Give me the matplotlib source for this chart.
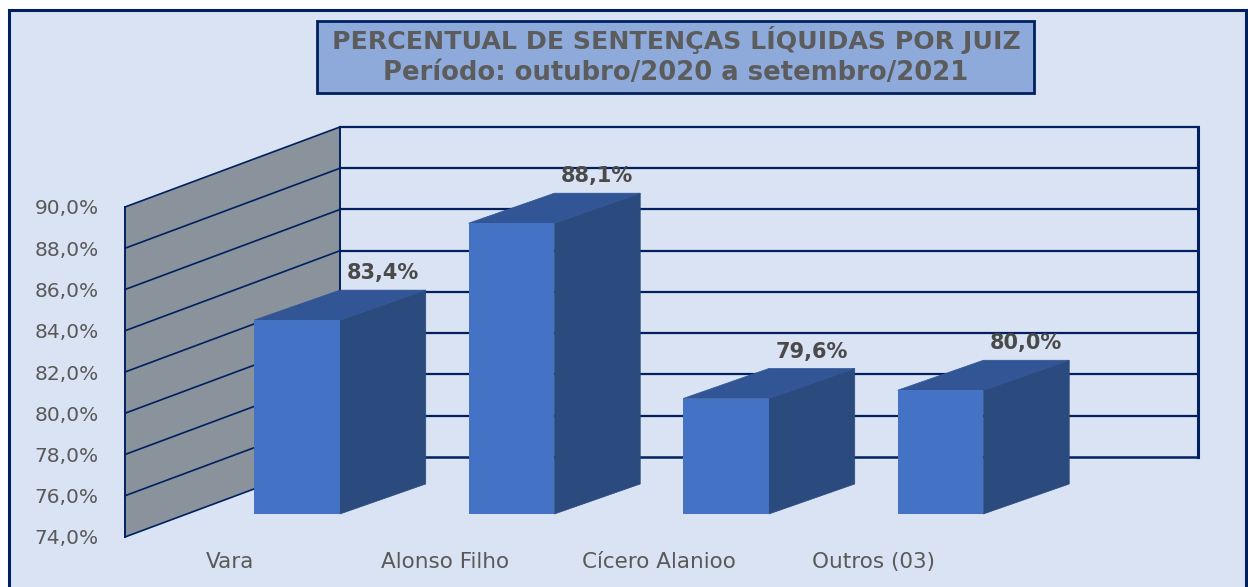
import matplotlib
matplotlib.use('Agg')
import matplotlib.pyplot as plt
from matplotlib.patches import Polygon, Rectangle

categories = ['Vara', 'Alonso Filho', 'Cícero Alanioo', 'Outros (03)']
values = [83.4, 88.1, 79.6, 80.0]
value_labels = ['83,4%', '88,1%', '79,6%', '80,0%']
ticks = [74, 76, 78, 80, 82, 84, 86, 88, 90]
tick_labels = ['74,0%', '76,0%', '78,0%', '80,0%', '82,0%', '84,0%', '86,0%', '88,0%', '90,0%']
title_lines = ['PERCENTUAL DE SENTENÇAS LÍQUIDAS POR JUIZ', 'Período: outubro/2020 a setembro/2021']

W, H = 1248, 587
BG = '#dae3f3'
NAVY = '#002060'
GREY_TXT = '#595959'

# 3d look: wall depth and bar depth in data units
wall_dx, wall_dy = 1.0023, 3.88
bar_off_x, bar_off_y = 0.112, 1.115
bar_w = 0.40
bar_dx, bar_dy = 0.40, 1.455
x0, x1 = -0.49, 3.51
y0, y1 = 74, 90


def box(x, y, w, h):
    # pixel box (from top left) to figure fractions
    return (x / W, 1 - (y + h) / H), w / W, h / H


fig = plt.figure(figsize=(W / 100, H / 100), dpi=100, facecolor='white')

xy, w, h = box(9, 10, 1237, 600)
fig.add_artist(Rectangle(xy, w, h, transform=fig.transFigure, facecolor=BG, edgecolor=NAVY, linewidth=2.2, zorder=-2))

xy, w, h = box(317, 21, 717, 72)
fig.add_artist(Rectangle(xy, w, h, transform=fig.transFigure, facecolor='#8eaadb', edgecolor=NAVY, linewidth=2, zorder=-1))
fig.text(676 / W, 1 - 40 / H, title_lines[0], ha='center', va='center', fontsize=18.2, fontweight='bold', color='#5c5c5c')
fig.text(676 / W, 1 - 73 / H, title_lines[1], ha='center', va='center', fontsize=18.6, fontweight='bold', color='#5c5c5c')

xy, w, h = box(125, 207, 858, 330)
ax = fig.add_axes([xy[0], xy[1], w, h], facecolor='none')
ax.set_xlim(x0, x1)
ax.set_ylim(y0, y1)
for s in ax.spines.values():
    s.set_visible(False)

# side wall
ax.add_patch(Polygon([(x0, y0), (x0 + wall_dx, y0 + wall_dy), (x0 + wall_dx, y1 + wall_dy), (x0, y1)],
                     closed=True, facecolor='#8a929c', edgecolor='none', clip_on=False, zorder=1))

# grid on side wall and back wall
for t in ticks:
    lw = 1.6 if t > 74 else 1.8
    ax.plot([x0, x0 + wall_dx], [t, t + wall_dy], color=NAVY, lw=1.2, clip_on=False, zorder=2)
    ax.plot([x0 + wall_dx, x1 + wall_dx], [t + wall_dy, t + wall_dy], color=NAVY, lw=lw, clip_on=False, zorder=2)
ax.plot([x0, x0], [y0, y1], color=NAVY, lw=1.4, clip_on=False, zorder=2)
ax.plot([x0 + wall_dx, x0 + wall_dx], [y0 + wall_dy, y1 + wall_dy], color=NAVY, lw=1.4, clip_on=False, zorder=2)
ax.plot([x1 + wall_dx, x1 + wall_dx], [y0 + wall_dy, y1 + wall_dy], color=NAVY, lw=2.2, clip_on=False, zorder=2)

# bars
for i, v in enumerate(values):
    left = i + bar_off_x
    right = left + bar_w
    base = y0 + bar_off_y
    top = base + (v - y0)
    ax.add_patch(Polygon([(right, base), (right + bar_dx, base + bar_dy), (right + bar_dx, top + bar_dy), (right, top)],
                         closed=True, facecolor='#2b4a7e', edgecolor='#2b4a7e', linewidth=0.5, clip_on=False, zorder=3))
    ax.add_patch(Polygon([(left, top), (right, top), (right + bar_dx, top + bar_dy), (left + bar_dx, top + bar_dy)],
                         closed=True, facecolor='#315595', edgecolor='#315595', linewidth=0.5, clip_on=False, zorder=3))
    ax.add_patch(Rectangle((left, base), bar_w, v - y0, facecolor='#4472c4', edgecolor='none', clip_on=False, zorder=4))
    ax.annotate(value_labels[i], xy=(right + bar_dx / 2, top + bar_dy), xytext=(0, 5), textcoords='offset points',
                ha='center', va='bottom', fontsize=15, fontweight='bold', color='#4a4a4a', zorder=5, annotation_clip=False)

ax.set_yticks(ticks)
ax.set_yticklabels(tick_labels, fontsize=14.5, color=GREY_TXT)
ax.set_xticks(range(len(categories)))
ax.set_xticklabels(categories, fontsize=15.5, color=GREY_TXT)
ax.tick_params(axis='y', length=0, pad=19)
ax.tick_params(axis='x', length=0, pad=11)

fig.savefig('out.png', dpi=100, facecolor='white')
